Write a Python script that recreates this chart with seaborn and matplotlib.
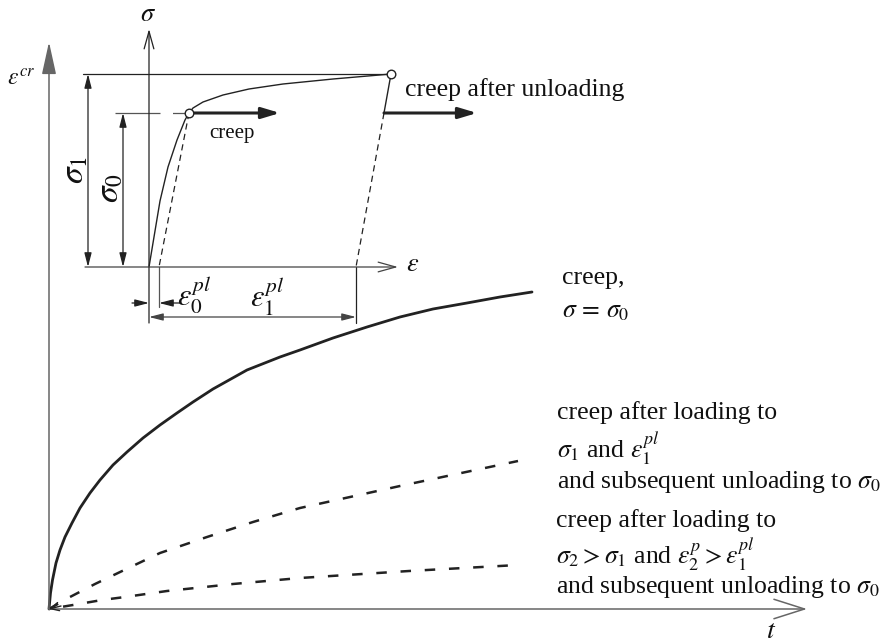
import numpy as np
import pandas as pd
import matplotlib
matplotlib.use("Agg")
import matplotlib.pyplot as plt
import seaborn as sns

# ---- creep strain vs. time (main diagram, origin at the axes corner) ----
creep_t = [0, 1.5, 3.5, 7, 11, 16, 23, 31, 41, 51, 64, 78, 94, 111, 128, 144, 164, 198,
           231, 251, 284, 318, 351, 384, 418, 451, 483]
creep_eps = [0, 16, 29, 46, 59, 72, 86, 101, 116, 129, 144, 157, 171, 184, 196, 207, 220, 239,
             252, 259, 271, 282, 292, 300, 306, 312, 317]

unload1_t = [0, 21, 46, 69, 111, 158, 204, 251, 351, 469]
unload1_eps = [0, 12, 25, 36, 56, 72, 87, 101, 123, 148]

unload2_t = [0, 24, 53, 76, 118, 184, 251, 360, 469]
unload2_eps = [0, 4, 9, 12, 18, 25, 31, 38, 44]

# ---- stress-strain inset (origin at the inset axes corner) ----
load_eps = [0, 2, 6, 11, 19, 28, 36, 40, 44, 54, 74, 100, 134, 184, 242]
load_sig = [0, 12, 36, 66, 100, 127, 147, 154, 159, 165, 172, 178, 183, 188, 193]

sigma0 = 154
sigma1 = 193
eps0_pl = 10
eps1_pl = 207
eps_at_sigma1 = 242
eps_unload_sigma0 = 235
creep_arrow_end = [131, 328]

TXT = "#111111"
LINE = "#222222"
AXIS = "#666666"

sns.set_theme(style="white")
plt.rcParams["font.family"] = ["Liberation Serif", "DejaVu Serif"]
plt.rcParams["mathtext.fontset"] = "stix"
plt.rcParams["lines.solid_joinstyle"] = "round"

fig = plt.figure(figsize=(8.92, 6.44), dpi=100)

# main creep-time axes
ax = fig.add_axes([0, 0, 1, 1])
ax.set_xlim(-49, 843)
ax.set_ylim(-35, 609)
ax.axis("off")

# inset stress-strain axes
ins = fig.add_axes([0, 0, 1, 1])
ins.set_xlim(-149, 743)
ins.set_ylim(-377, 267)
ins.axis("off")
ins.patch.set_alpha(0)


def arrow(a, start, end, style, color, lw, scale):
    a.annotate("", xy=end, xytext=start,
               arrowprops=dict(arrowstyle=style, color=color, lw=lw,
                               mutation_scale=scale, shrinkA=0, shrinkB=0))


# ----- main axes -----
arrow(ax, (0, 0), (0, 567), "-|>,head_length=1.0,head_width=0.22", AXIS, 1.1, 20)
arrow(ax, (0, 0), (758, 0), "->,head_length=1.1,head_width=0.35", AXIS, 1.1, 20)

sns.lineplot(x=creep_t, y=creep_eps, ax=ax, sort=False, estimator=None,
             color=LINE, lw=2.0)
sns.lineplot(x=unload1_t, y=unload1_eps, ax=ax, sort=False, estimator=None,
             color=LINE, lw=1.8, linestyle=(0, (4.2, 5.5)))
sns.lineplot(x=unload2_t, y=unload2_eps, ax=ax, sort=False, estimator=None,
             color=LINE, lw=1.8, linestyle=(4, (4.2, 5.5)))
arrow(ax, (12, 3), (0, 0), "->,head_length=0.5,head_width=0.25", LINE, 1.0, 12)

ax.text(-28, 529, r"$\varepsilon^{cr}$", fontsize=17, color=TXT, ha="center", va="center")
ax.text(722, -22, r"$t$", fontsize=20, color=TXT, ha="center", va="center")

fs = 18.5
ax.text(513, 325, "creep,", fontsize=fs, color=TXT, ha="left", va="baseline")
ax.text(513, 292, r"$\sigma\,=\,\sigma_0$", fontsize=fs, color=TXT, ha="left", va="baseline")
ax.text(508, 190, "creep after loading to", fontsize=fs, color=TXT, ha="left", va="baseline")
ax.text(508, 151, r"$\sigma_1$ and $\varepsilon_1^{pl}$", fontsize=fs, color=TXT, ha="left", va="baseline")
ax.text(508, 121, r"and subsequent unloading to $\sigma_0$", fontsize=fs, color=TXT, ha="left", va="baseline")
ax.text(507, 82, "creep after loading to", fontsize=fs, color=TXT, ha="left", va="baseline")
ax.text(507, 45, r"$\sigma_2 > \sigma_1$ and $\varepsilon_2^{p} > \varepsilon_1^{pl}$", fontsize=fs,
        color=TXT, ha="left", va="baseline")
ax.text(507, 16, r"and subsequent unloading to $\sigma_0$", fontsize=fs, color=TXT, ha="left", va="baseline")

# ----- inset: stress-strain diagram -----
thin = 0.9
arrow(ins, (0, -56), (0, 238), "->,head_length=0.9,head_width=0.25", LINE, thin, 14)
arrow(ins, (-64, 0), (249, 0), "->,head_length=0.9,head_width=0.25", "#444444", thin, 14)

# reference levels
sns.lineplot(x=[-66, eps_at_sigma1 - 4], y=[sigma1, sigma1], ax=ins, sort=False,
             estimator=None, color=LINE, lw=thin)
sns.lineplot(x=[-34, eps0_pl + 28], y=[sigma0, sigma0], ax=ins, sort=False,
             estimator=None, color="#555555", lw=thin, linestyle=(0, (36, 10)))

# loading curve
sns.lineplot(x=load_eps, y=load_sig, ax=ins, sort=False, estimator=None,
             color=LINE, lw=1.0)

# elastic unloading lines
sns.lineplot(x=[load_eps[7], eps0_pl], y=[sigma0, 0], ax=ins, sort=False,
             estimator=None, color=LINE, lw=thin, linestyle=(0, (5, 3.5)))
sns.lineplot(x=[eps_at_sigma1, eps_unload_sigma0], y=[sigma1, sigma0], ax=ins,
             sort=False, estimator=None, color=LINE, lw=1.0)
sns.lineplot(x=[eps_unload_sigma0, eps1_pl], y=[sigma0, 0], ax=ins, sort=False,
             estimator=None, color=LINE, lw=thin, linestyle=(0, (5, 3.5)))

# creep arrows
arrow(ins, (load_eps[7], sigma0), (creep_arrow_end[0], sigma0),
      "-|>,head_length=1.0,head_width=0.3", LINE, 2.2, 11)
arrow(ins, (eps_unload_sigma0, sigma0), (creep_arrow_end[1], sigma0),
      "-|>,head_length=1.0,head_width=0.3", LINE, 2.2, 11)

# points where loading stops
sns.scatterplot(x=[load_eps[7], eps_at_sigma1], y=[sigma0, sigma1], ax=ins,
                s=38, color="white", edgecolor=LINE, linewidth=1.0, zorder=5)

# dimension lines
dim = "<|-|>,head_length=0.7,head_width=0.18"
arrow(ins, (-61, 0), (-61, sigma1), dim, LINE, thin, 12)
arrow(ins, (-26, 0), (-26, sigma0), dim, LINE, thin, 12)
sns.lineplot(x=[eps0_pl, eps0_pl], y=[0, -40], ax=ins, sort=False, estimator=None,
             color="#555555", lw=thin)
sns.lineplot(x=[eps1_pl, eps1_pl], y=[0, -56], ax=ins, sort=False, estimator=None,
             color=LINE, lw=thin)
arrow(ins, (-17, -36), (0, -36), "-|>,head_length=0.7,head_width=0.18", LINE, thin, 12)
arrow(ins, (31, -36), (eps0_pl, -36), "-|>,head_length=0.7,head_width=0.18", LINE, thin, 12)
arrow(ins, (0, -50), (eps1_pl, -50), dim, "#444444", thin, 12)

ins.text(-1, 252, r"$\sigma$", fontsize=19, color=TXT, ha="center", va="center")
ins.text(264, 2, r"$\varepsilon$", fontsize=19, color=TXT, ha="center", va="center")
ins.text(-74, 97, r"$\sigma_1$", fontsize=24, color=TXT, ha="center", va="center", rotation=90)
ins.text(-39, 79, r"$\sigma_0$", fontsize=24, color=TXT, ha="center", va="center", rotation=90)
ins.text(83, 129, "creep", fontsize=15, color=TXT, ha="center", va="baseline")
ins.text(45, -28, r"$\varepsilon_0^{pl}$", fontsize=22, color=TXT, ha="center", va="center")
ins.text(118, -30, r"$\varepsilon_1^{pl}$", fontsize=22, color=TXT, ha="center", va="center")
ins.text(256, 171, "creep after unloading", fontsize=fs, color=TXT, ha="left", va="baseline")

fig.savefig("out.png", dpi=100, facecolor="white")
